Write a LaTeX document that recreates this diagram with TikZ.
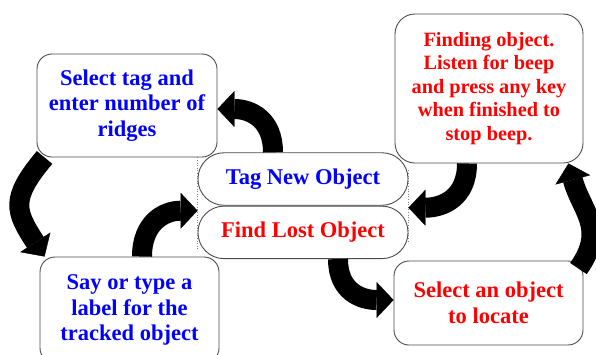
\documentclass[tikz,border=0pt]{standalone}
\usepackage{fontspec}
\setmainfont{Liberation Serif}
\usepackage{xcolor}
\usepackage{tikz}
\usetikzlibrary{positioning,arrows.meta,calc}

\begin{document}
\begin{tikzpicture}[
        x=1pt, y=1pt,
        every node/.style={font=\bfseries\fontsize{22.5}{25.5}\selectfont},
        stepbox/.style={
            draw=black!70,
            line width=0.9pt,
            rounded corners=15pt,
            align=center,
            inner sep=0pt,
            fill=white
        },
        modebox/.style={
            stepbox,
            rounded corners=26pt,
            minimum width=210pt,
            minimum height=52.5pt
        },
        tagtext/.style={text=blue},
        findtext/.style={text=red},
        flowarrow/.style={
            line width=20pt,
            draw=black,
            -{Triangle[width=36pt,length=17pt,line width=0.4pt]}
        }
    ]
        \path[use as bounding box, clip] (0,0) rectangle (596,-354);

        % Mode selector
        \node[modebox, tagtext] (tagnew) at (303,-179) {Tag New Object};
        \node[modebox, findtext, below=0pt of tagnew] (findlost) {Find Lost Object};
        \draw[dotted, gray, line width=0.6pt] ([yshift=-5pt]tagnew.north west) -- ([yshift=10pt]findlost.south west);
        \draw[dotted, gray, line width=0.6pt] ([yshift=-18pt]tagnew.north east) -- ([yshift=16pt]findlost.south east);

        % Tagging steps
        \node[stepbox, tagtext, minimum width=180pt, minimum height=103pt] (selecttag) at (127,-105.5)
            {Select tag and\\enter number of\\ridges};
        \node[stepbox, tagtext, minimum width=179pt, minimum height=106pt] (saylabel) at (129.5,-310)
            {Say or type a\\label for the\\tracked object};

        % Finding steps
        \node[stepbox, findtext, minimum width=189pt, minimum height=84pt] (selectobj) at (488.5,-303)
            {Select an object\\to locate};
        \node[stepbox, findtext, rounded corners=20pt, minimum width=188pt, minimum height=149pt,
              font=\bfseries\fontsize{20.3}{23.5}\selectfont] (finding) at (489,-88.5)
            {Finding object.\\Listen for beep\\and press any key\\when finished to\\stop beep.};

        % Tag flow
        \draw[flowarrow] ([xshift=-30pt]tagnew.north) to[out=90,in=0,looseness=1.2] ([yshift=-3.5pt]selecttag.east);
        \draw[flowarrow] ([xshift=8pt]selecttag.south west) to[out=230,in=123,looseness=1.4] ([xshift=5pt]saylabel.north west);
        \draw[flowarrow] ([xshift=12.5pt]saylabel.north) to[out=90,in=180,looseness=1.2] ([yshift=-5pt]tagnew.south west);

        % Find flow
        \draw[flowarrow] ([xshift=35pt]findlost.south) to[out=-90,in=180,looseness=1.2] ([yshift=3pt]selectobj.west);
        \draw[flowarrow] ([xshift=-5pt,yshift=-8pt]selectobj.north east) to[out=55,in=-75,looseness=1.2] ([xshift=-15pt]finding.south east);
        \draw[flowarrow] ([xshift=-22pt]finding.south) to[out=-90,in=0,looseness=1.2] ([yshift=-2pt]tagnew.south east);

    \end{tikzpicture}
\end{document}
